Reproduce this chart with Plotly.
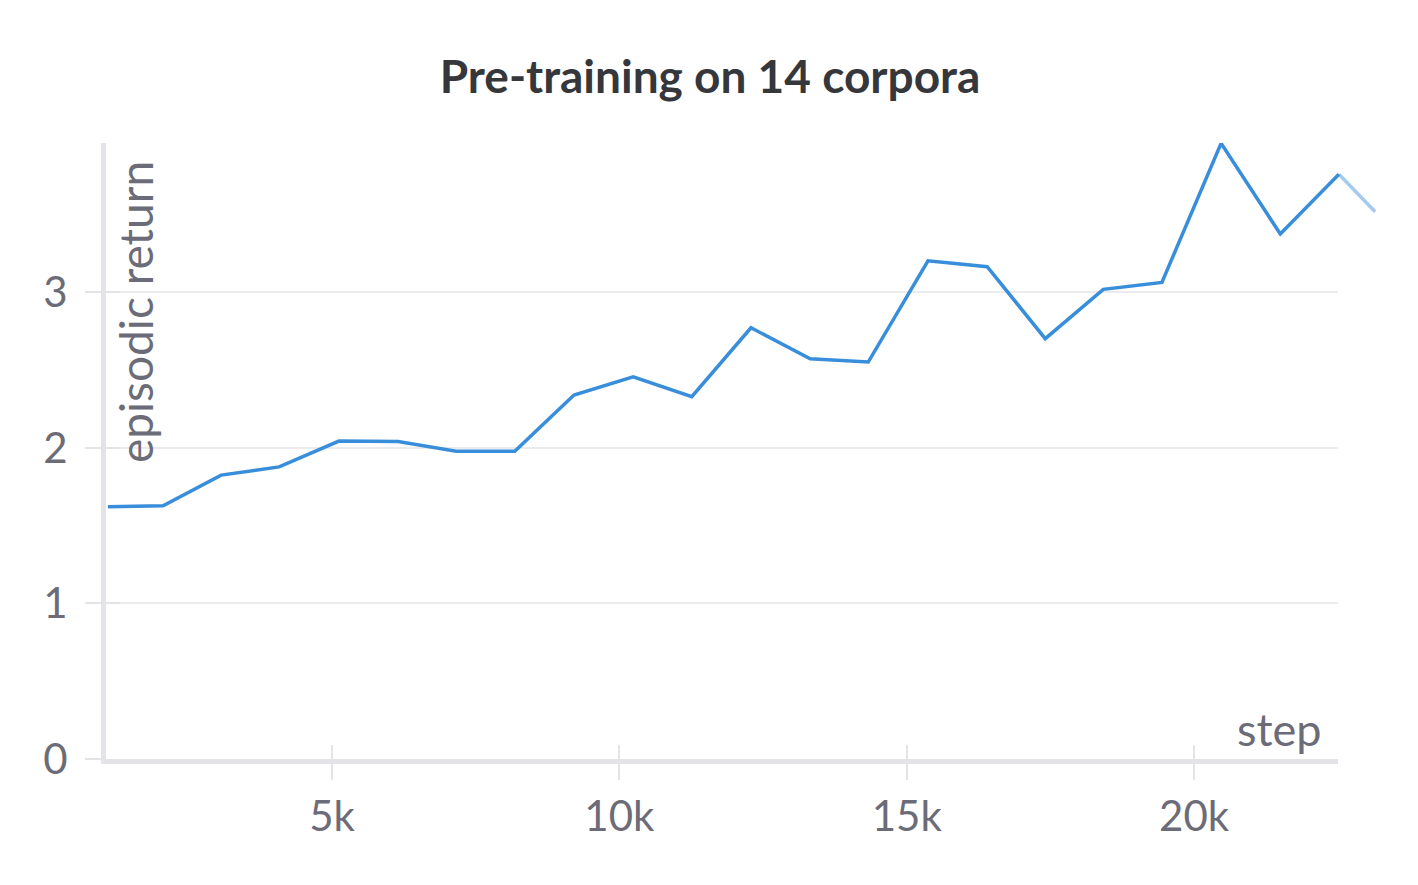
import plotly.graph_objects as go

# ---- data ----
steps = [1100, 2060, 3070, 4080, 5120, 6150, 7160, 8180, 9210, 10240, 11260,
         12290, 13320, 14330, 15370, 16400, 17410, 18420, 19440, 20470, 21500, 22520]
episodic_return = [1.621, 1.628, 1.825, 1.878, 2.044, 2.041, 1.979, 1.979, 2.340,
                   2.457, 2.329, 2.772, 2.573, 2.552, 3.203, 3.165, 2.702, 3.019,
                   3.064, 3.958, 3.375, 3.759]
# trailing segment that runs past the axis edge (faded in the reference)
tail_steps = [22520, 23150]
tail_return = [3.759, 3.518]

x_tickvals = [5000, 10000, 15000, 20000]
x_ticktext = ["5k", "10k", "15k", "20k"]
y_tickvals = [0, 1, 2, 3]
y_ticktext = ["0", "1", "2", "3"]

TITLE = "Pre-training on 14 corpora"
Y_LABEL = "episodic return"
X_LABEL = "step"

# ---- style ----
OFF = 8  # page body margin
W, H = 1418, 885
ML = 106 - OFF
MT = 143 - OFF
MB = H - (759 - OFF)
MR = W - (1378 - OFF)
LINE_COLOR = "#388edb"
AXIS_COLOR = "#e4e4e8"
GRID_COLOR = "#ebebee"
TICK_FONT_COLOR = "#6c6c78"
TITLE_COLOR = "#35373b"
FONT = "Lato, 'Source Sans Pro', sans-serif"

x_main_range = [1067, 22505]
x_full_range = [1067, 23200]
main_dom = (x_main_range[1] - x_main_range[0]) / (x_full_range[1] - x_full_range[0])
y_range = [0, 3.96]

fig = go.Figure()
fig.add_trace(go.Scatter(x=steps, y=episodic_return, mode="lines",
                         line=dict(color=LINE_COLOR, width=3.5),
                         xaxis="x2", yaxis="y2", showlegend=False, hoverinfo="skip"))
fig.add_trace(go.Scatter(x=tail_steps, y=tail_return, mode="lines",
                         line=dict(color=LINE_COLOR, width=3.5), opacity=0.45,
                         xaxis="x2", yaxis="y2", showlegend=False, hoverinfo="skip"))
# dummy traces to register tick-overlay axes
fig.add_trace(go.Scatter(x=[], y=[], xaxis="x", yaxis="y", showlegend=False))
fig.add_trace(go.Scatter(x=[], y=[], xaxis="x3", yaxis="y", showlegend=False))
fig.add_trace(go.Scatter(x=[], y=[], xaxis="x", yaxis="y3", showlegend=False))

tickfont = dict(family=FONT, size=42, color=TICK_FONT_COLOR)

fig.update_layout(
    width=W, height=H,
    margin=dict(l=ML, r=MR, t=MT, b=MB),
    paper_bgcolor="white", plot_bgcolor="rgba(0,0,0,0)",
    title=dict(text=TITLE, x=(710 - OFF) / W, xanchor="center", xref="container",
               y=1 - (77 - OFF) / H, yanchor="middle", yref="container",
               font=dict(family=FONT, size=46, color=TITLE_COLOR, weight=700)),
    xaxis=dict(domain=[0, main_dom], range=x_main_range, anchor="y",
               tickvals=x_tickvals, ticktext=x_ticktext, tickfont=tickfont,
               showgrid=False, zeroline=False, showline=True,
               linecolor=AXIS_COLOR, linewidth=5,
               ticks="outside", ticklen=16, tickwidth=2, tickcolor=AXIS_COLOR,
               ticklabelstandoff=1),
    yaxis=dict(domain=[0, 1], range=y_range, anchor="x",
               tickvals=y_tickvals, ticktext=y_ticktext, tickfont=tickfont,
               showgrid=True, gridcolor=GRID_COLOR, gridwidth=1.5,
               zeroline=False, showline=True,
               linecolor=AXIS_COLOR, linewidth=5,
               ticks="outside", ticklen=16, tickwidth=2, tickcolor=AXIS_COLOR,
               ticklabelstandoff=9),
    xaxis3=dict(overlaying="x", range=x_main_range, anchor="y",
                tickvals=x_tickvals, showticklabels=False, showgrid=False,
                zeroline=False, showline=False,
                ticks="inside", ticklen=14, tickwidth=2, tickcolor=AXIS_COLOR),
    yaxis3=dict(overlaying="y", range=y_range, anchor="x",
                tickvals=y_tickvals, showticklabels=False, showgrid=False,
                zeroline=False, showline=False,
                ticks="inside", ticklen=14, tickwidth=2, tickcolor=AXIS_COLOR),
    xaxis2=dict(domain=[0, 1], range=x_full_range, anchor="y2", visible=False),
    yaxis2=dict(domain=[0, 1], range=y_range, anchor="x2", visible=False),
)

pw = W - ML - MR
ph = H - MT - MB

def px_to_paper(px, py):
    # px, py are screen coordinates
    return (px - OFF - ML) / pw, 1 - (py - OFF - MT) / ph

ax, ay = px_to_paper(135, 312)
fig.add_annotation(text=Y_LABEL, xref="paper", yref="paper", x=ax, y=ay,
                   xanchor="center", yanchor="middle", textangle=-90, showarrow=False,
                   font=dict(family=FONT, size=46, color=TICK_FONT_COLOR))
sx, sy = px_to_paper(1279, 729)
fig.add_annotation(text=X_LABEL, xref="paper", yref="paper", x=sx, y=sy,
                   xanchor="center", yanchor="middle", showarrow=False,
                   font=dict(family=FONT, size=45, color=TICK_FONT_COLOR))

fig.write_html("out.html")
